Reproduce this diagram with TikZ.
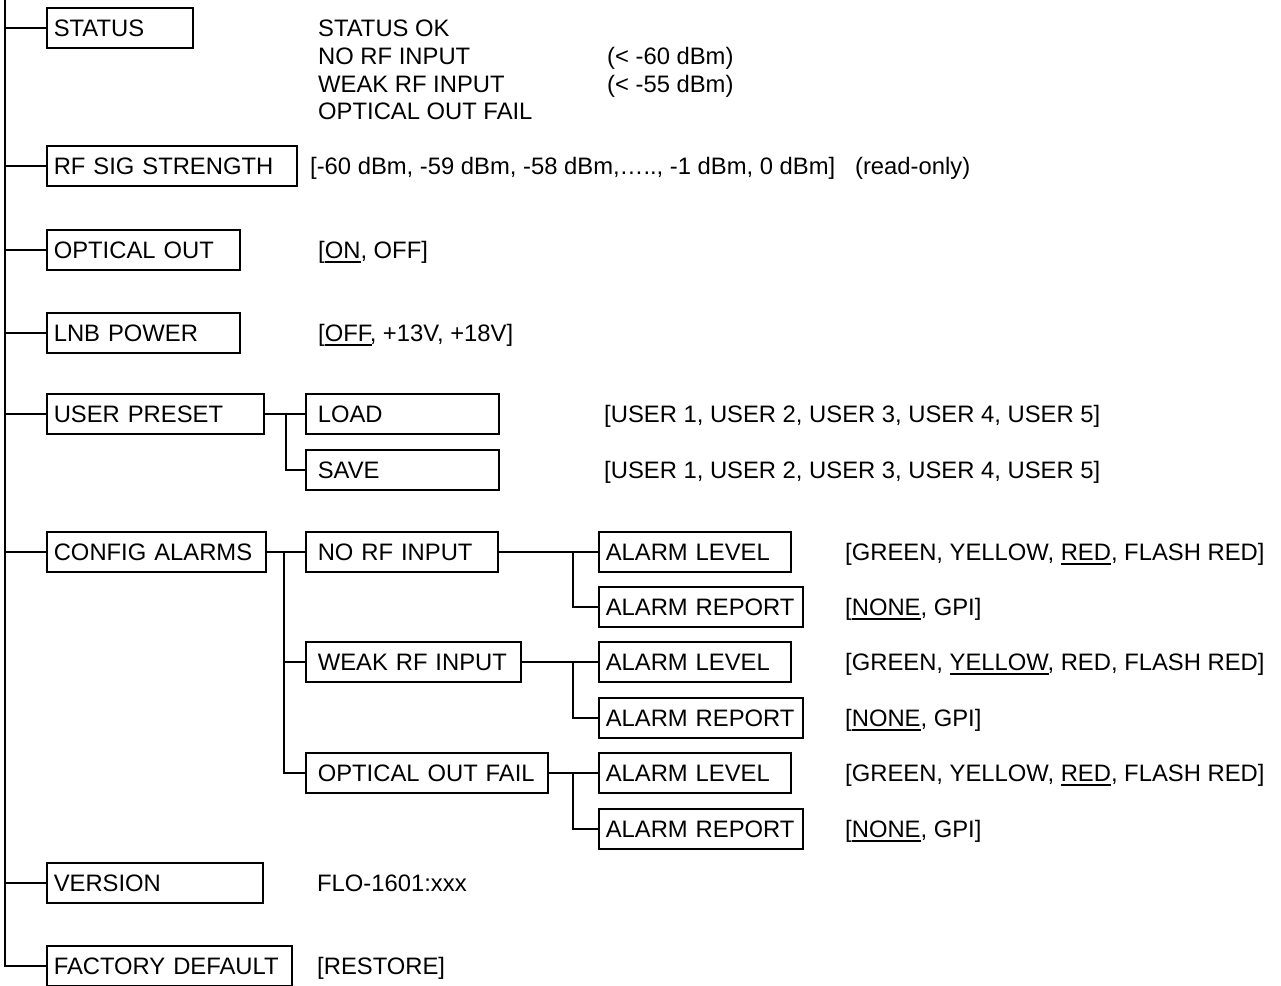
\documentclass[tikz,border=0pt]{standalone}
\usepackage{fontspec}
\setmainfont{Liberation Sans}
\newcommand\uln[1]{\sbox0{#1}\rlap{\vrule width\wd0 height -2.2pt depth 4pt}#1}
\begin{document}
\begin{tikzpicture}[x=1pt,y=-1pt,
  font=\fontsize{23.8}{28}\selectfont,
  ln/.style={line width=1.6pt},
  bx/.style={draw, line width=1.6pt, anchor=west, minimum height=40pt,
    text height=17pt, text depth=0pt, inner xsep=7pt, inner ysep=0pt,
    text width=#1, align=left},
  bxs/.style={bx=#1, execute at begin node={\hspace*{5pt}}},
  val/.style={anchor=base west, inner sep=0pt}]
\useasboundingbox (0,0) rectangle (1281,985);
\fill[white] (0,0) rectangle (1281,985);
\clip (0,0) rectangle (1281,985);

% main menu boxes
\node[bx=132] (st) at (46,28) {STATUS};
\node[bx=236] (rf) at (46,166) {RF SIG STRENGTH};
\node[bx=179] (oo) at (46,250) {OPTICAL OUT};
\node[bx=179] (lnb) at (46,333) {LNB POWER};
\node[bx=203] (up) at (46,414) {USER PRESET};
\node[bx=205] (ca) at (46,552) {CONFIG ALARMS};
\node[bx=202] (ver) at (46,883) {VERSION};
\node[bx=231] (fd) at (46,966) {FACTORY DEFAULT};

% sub boxes
\node[bxs=179] (load) at (305,414) {LOAD};
\node[bxs=179] (save) at (305,470) {SAVE};
\node[bxs=178] (norf) at (305,552) {NO RF INPUT};
\node[bxs=201] (weak) at (305,662) {WEAK RF INPUT};
\node[bxs=228] (oof) at (305,773) {OPTICAL OUT FAIL};
\node[bx=178] (al1) at (598,552) {ALARM LEVEL};
\node[bx=190] (ar1) at (598,607) {ALARM REPORT};
\node[bx=178] (al2) at (598,662) {ALARM LEVEL};
\node[bx=190] (ar2) at (598,718) {ALARM REPORT};
\node[bx=178] (al3) at (598,773) {ALARM LEVEL};
\node[bx=190] (ar3) at (598,829) {ALARM REPORT};

% trunk
\coordinate (t0) at (5,0);
\coordinate (t1) at (5,966);
\draw[ln] (t0) -- (t1) -- (fd.west);
\foreach \n in {st,rf,oo,lnb,up,ca,ver}{
  \draw[ln] (t0 |- \n.west) -- (\n.west);
}

% user preset
\coordinate (j1) at (286,414);
\draw[ln] (up.east) -- (load.west);
\draw[ln] (j1) |- (save.west);

% config alarms
\coordinate (j2) at (284,552);
\draw[ln] (ca.east) -- (norf.west);
\draw[ln] (j2) |- (weak.west);
\draw[ln] (j2) |- (oof.west);

% alarm subtrees
\coordinate (j3) at (573,552);
\coordinate (j4) at (573,662);
\coordinate (j5) at (573,773);
\draw[ln] (norf.east) -- (al1.west);
\draw[ln] (j3) |- (ar1.west);
\draw[ln] (weak.east) -- (al2.west);
\draw[ln] (j4) |- (ar2.west);
\draw[ln] (oof.east) -- (al3.west);
\draw[ln] (j5) |- (ar3.west);

% values
\node[val] (s1) at (318,36.5) {STATUS OK};
\node[val] (s2) at (318,64.5) {NO RF INPUT};
\node[val] (s3) at (318,92.5) {WEAK RF INPUT};
\node[val] (s4) at (318,119.5) {OPTICAL OUT FAIL};
\node[val] (p2) at (607,64.5) {(< -60 dBm)};
\node[val] (p3) at (607,92.5) {(< -55 dBm)};
\node[val] (vrf) at (310,174.5) {[-60 dBm, -59 dBm, -58 dBm,….., -1 dBm, 0 dBm]\ \ \ (read-only)};
\node[val] (voo) at (318,258.5) {[\uln{ON}, OFF]};
\node[val] (vlnb) at (318,341.5) {[\uln{OFF}, +13V, +18V]};
\node[val] (vload) at (604,422.5) {[USER 1, USER 2, USER 3, USER 4, USER 5]};
\node[val] (vsave) at (604,478.5) {[USER 1, USER 2, USER 3, USER 4, USER 5]};
\node[val] (val1) at (845,560.5) {[GREEN, YELLOW, \uln{RED}, FLASH RED]};
\node[val] (var1) at (845,615.5) {[\uln{NONE}, GPI]};
\node[val] (val2) at (845,670.5) {[GREEN, \uln{YELLOW}, RED, FLASH RED]};
\node[val] (var2) at (845,726.5) {[\uln{NONE}, GPI]};
\node[val] (val3) at (845,781.5) {[GREEN, YELLOW, \uln{RED}, FLASH RED]};
\node[val] (var3) at (845,837.5) {[\uln{NONE}, GPI]};
\node[val] (vver) at (317,891.5) {FLO-1601:xxx};
\node[val] (vfd) at (317,974.5) {[RESTORE]};
\end{tikzpicture}
\end{document}
